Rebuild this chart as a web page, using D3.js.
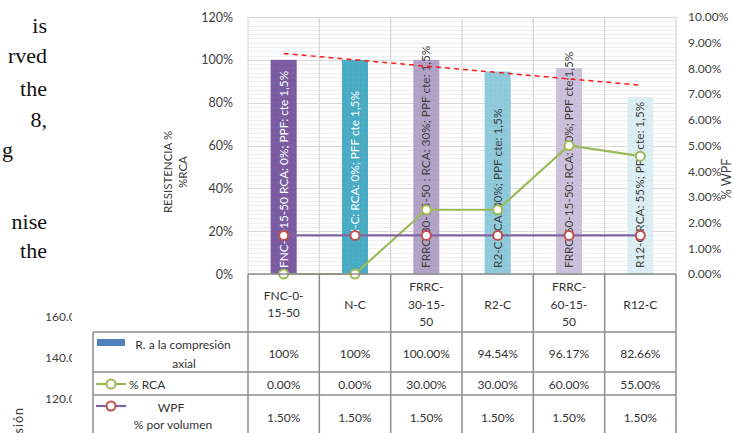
<!DOCTYPE html>
<html>
<head>
<meta charset="utf-8">
<script src="https://cdn.jsdelivr.net/npm/d3@7"></script>
<style>
  html, body { margin: 0; padding: 0; background: #fff; overflow: hidden; }
  svg { display: block; }
  text { font-family: Lato, "Open Sans", sans-serif; }
</style>
</head>
<body>
<svg id="chart" width="733" height="433"></svg>
<script>
// ---------------- DATA ----------------
const categories = ["FNC-0-15-50", "N-C", "FRRC-30-15-50", "R2-C", "FRRC-60-15-50", "R12-C"];
const categoryLines = [["FNC-0-", "15-50"], ["N-C"], ["FRRC-", "30-15-", "50"], ["R2-C"], ["FRRC-", "60-15-", "50"], ["R12-C"]];
const compresion = [1.00, 1.00, 1.00, 0.9454, 0.9617, 0.8266];
const compresionLabels = ["100%", "100%", "100.00%", "94.54%", "96.17%", "82.66%"];
const rca = [0.00, 0.00, 0.30, 0.30, 0.60, 0.55];
const rcaLabels = ["0.00%", "0.00%", "30.00%", "30.00%", "60.00%", "55.00%"];
const wpf = [0.015, 0.015, 0.015, 0.015, 0.015, 0.015];
const wpfLabels = ["1.50%", "1.50%", "1.50%", "1.50%", "1.50%", "1.50%"];
const barLabels = [
  "FNC-0-15-50  RCA: 0%; PPF: cte 1,5%",
  "N-C: RCA: 0%; PFF cte  1,5%",
  "FRRC-30-15-50 : RCA: 30%; PPF cte: 1,5%",
  "R2-C RCA: 30%; PPF cte: 1,5%",
  "FRRC-60-15-50: RCA: 60%; PPF cte:1,5%",
  "R12-C RCA: 55%; PPF cte: 1,5%"
];
const barLabelLead = [0, 30, 0, 0, 0, 0];
const barColors = ["#7b5ba1", "#4aabc5", "#b3a2c7", "#8ecadb", "#ccc1da", "#dbeef4"];
const barLabelColors = ["#ffffff", "#ffffff", "#404040", "#404040", "#404040", "#404040"];
const leftTicks = [0, 0.2, 0.4, 0.6, 0.8, 1.0, 1.2];
const rightTicks = [0, 0.01, 0.02, 0.03, 0.04, 0.05, 0.06, 0.07, 0.08, 0.09, 0.10];
const legendLabels = {
  bar: ["R. a la compresión", "axial"],
  rca: ["% RCA"],
  wpf: ["WPF", "% por volumen"]
};
const leftTitle = ["RESISTENCIA %", "%RCA"];
const rightTitle = "% WPF";
// fragments of surrounding page
const pageText = [
  {t: "is", y: 33}, {t: "rved", y: 63}, {t: "the", y: 96}, {t: "8,", y: 127},
  {t: "g", y: 157, left: true}, {t: "nise", y: 229}, {t: "the", y: 258}
];
const otherTicks = ["160.0", "140.0", "120.0"];

// ---------------- LAYOUT ----------------
const svg = d3.select("#chart");
const L = 248, R = 676, T = 17, B = 274;
const tblLeft = 93;
const rowY = [274, 332, 372, 395, 440];

const x = d3.scaleBand().domain(categories).range([L, R]).padding(0);
const xBar = d3.scaleBand().domain(categories).range([L, R]).paddingInner(0.635).paddingOuter(0.3175);
const yL = d3.scaleLinear().domain([0, 1.2]).range([B, T]);
const yR = d3.scaleLinear().domain([0, 0.10]).range([B, T]);
const cx = c => x(c) + x.bandwidth() / 2;

// subtle dotted texture for bars
const defs = svg.append("defs");
const pat = defs.append("pattern").attr("id", "dots").attr("patternUnits", "userSpaceOnUse")
  .attr("width", 5).attr("height", 5);
pat.append("rect").attr("x", 0).attr("y", 0).attr("width", 1).attr("height", 1).attr("fill", "#000").attr("opacity", 0.05);
pat.append("rect").attr("x", 3).attr("y", 2).attr("width", 1).attr("height", 1).attr("fill", "#fff").attr("opacity", 0.10);

// ---------- page fragments ----------
const serif = svg.append("g").attr("font-size", 22).attr("fill", "#111");
serif.selectAll("text").data(pageText).join("text")
  .style("font-family", "'Liberation Serif', serif")
  .attr("x", d => d.left ? 13 : 47).attr("y", d => d.y)
  .attr("text-anchor", "end").text(d => d.t);

svg.append("clipPath").attr("id", "oc").append("rect").attr("x", 0).attr("y", 0).attr("width", 72).attr("height", 433);
const oth = svg.append("g").attr("clip-path", "url(#oc)");
oth.selectAll("text").data(otherTicks).join("text")
  .attr("x", 45).attr("y", (d, i) => 321 + i * 41)
  .attr("font-size", 12).attr("fill", "#404040").text(d => d);
svg.append("text").attr("transform", "translate(23,407) rotate(-90)")
  .attr("text-anchor", "end").attr("font-size", 12.5).attr("fill", "#404040").attr("letter-spacing", 1).text("sión");

// ---------- gridlines ----------
const minor = d3.range(0, 1.2001, 0.02);
svg.append("g").selectAll("line").data(minor).join("line")
  .attr("x1", L).attr("x2", R).attr("y1", d => Math.round(yL(d)) + 0.5).attr("y2", d => Math.round(yL(d)) + 0.5)
  .attr("stroke", "#efefef").attr("stroke-width", 1);
svg.append("g").selectAll("line").data(leftTicks).join("line")
  .attr("x1", L).attr("x2", R).attr("y1", d => Math.round(yL(d)) + 0.5).attr("y2", d => Math.round(yL(d)) + 0.5)
  .attr("stroke", "#d9d9d9").attr("stroke-width", 1);
const bounds = categories.map(c => x(c)).concat([R]);
svg.append("g").selectAll("line").data(bounds).join("line")
  .attr("x1", d => d).attr("x2", d => d).attr("y1", T).attr("y2", B)
  .attr("stroke", "#d9d9d9").attr("stroke-width", 1.3);

// ---------- axes ----------
const axL = svg.append("g").attr("transform", `translate(${L},0)`)
  .call(d3.axisLeft(yL).tickValues(leftTicks).tickFormat(d3.format(".0%")).tickSize(0).tickPadding(15));
axL.select(".domain").remove();
axL.selectAll("text").attr("font-size", 12.5).attr("fill", "#404040").style("font-family", "Lato, sans-serif");

const axR = svg.append("g").attr("transform", `translate(${R},0)`)
  .call(d3.axisRight(yR).tickValues(rightTicks).tickFormat(d3.format(".2%")).tickSize(0).tickPadding(12));
axR.select(".domain").remove();
axR.selectAll("text").attr("font-size", 12).attr("fill", "#404040").style("font-family", "Lato, sans-serif");

// axis titles
const lt = svg.append("text").attr("transform", "translate(172,172) rotate(-90)")
  .attr("text-anchor", "middle").attr("font-size", 11.5).attr("fill", "#404040");
lt.append("tspan").attr("x", 0).attr("dy", 0).text(leftTitle[0]);
lt.append("tspan").attr("x", 0).attr("dy", 15).text(leftTitle[1]);
svg.append("text").attr("transform", "translate(731,179) rotate(-90)")
  .attr("text-anchor", "middle").attr("font-size", 12.5).attr("fill", "#404040").text(rightTitle);

// ---------- bars ----------
const bars = svg.append("g");
bars.selectAll("rect.b").data(categories).join("rect").attr("class", "b")
  .attr("x", c => xBar(c)).attr("width", xBar.bandwidth())
  .attr("y", (c, i) => yL(compresion[i])).attr("height", (c, i) => B - yL(compresion[i]))
  .attr("fill", (c, i) => barColors[i]);
bars.selectAll("rect.t").data(categories).join("rect").attr("class", "t")
  .attr("x", c => xBar(c)).attr("width", xBar.bandwidth())
  .attr("y", (c, i) => yL(compresion[i])).attr("height", (c, i) => B - yL(compresion[i]))
  .attr("fill", "url(#dots)");

// bar labels
svg.append("g").selectAll("text").data(categories).join("text")
  .attr("transform", (c, i) => `translate(${cx(c) + 4},${B - 6 - barLabelLead[i]}) rotate(-90)`)
  .attr("text-anchor", "start").attr("font-size", 11.8)
  .attr("fill", (c, i) => barLabelColors[i])
  .text((c, i) => barLabels[i]);

// ---------- trendline (linear regression on compression values) ----------
const xs = categories.map((c, i) => i + 1);
const mx = d3.mean(xs), my = d3.mean(compresion);
const slope = d3.sum(xs.map((v, i) => (v - mx) * (compresion[i] - my))) / d3.sum(xs.map(v => (v - mx) ** 2));
const icpt = my - slope * mx;
svg.append("line")
  .attr("x1", cx(categories[0])).attr("y1", yL(icpt + slope * 1))
  .attr("x2", cx(categories[5])).attr("y2", yL(icpt + slope * 6))
  .attr("stroke", "#ff1a1a").attr("stroke-width", 1.5).attr("stroke-dasharray", "5,4");

// ---------- lines ----------
const rcaLine = d3.line().x((d, i) => cx(categories[i])).y(d => yL(d));
svg.append("path").datum(rca).attr("d", rcaLine).attr("fill", "none").attr("stroke", "#9bbb59").attr("stroke-width", 2.2);
const wpfLine = d3.line().x((d, i) => cx(categories[i])).y(d => yR(d));
svg.append("path").datum(wpf).attr("d", wpfLine).attr("fill", "none").attr("stroke", "#8064a2").attr("stroke-width", 2.2);

svg.append("g").selectAll("circle").data(rca).join("circle")
  .attr("cx", (d, i) => cx(categories[i])).attr("cy", d => yL(d)).attr("r", 4.5)
  .attr("fill", "#fff").attr("stroke", "#9bbb59").attr("stroke-width", 2);
svg.append("g").selectAll("circle").data(wpf).join("circle")
  .attr("cx", (d, i) => cx(categories[i])).attr("cy", d => yR(d)).attr("r", 4.5)
  .attr("fill", "#fff").attr("stroke", "#c0504d").attr("stroke-width", 2);

// ---------- data table ----------
const tg = svg.append("g");
const lineColor = "#8c8c8c", lw = 1.5;
tg.append("line").attr("x1", L).attr("x2", R).attr("y1", rowY[0]).attr("y2", rowY[0]).attr("stroke", lineColor).attr("stroke-width", lw);
[rowY[1], rowY[2], rowY[3]].forEach(yy => {
  tg.append("line").attr("x1", tblLeft).attr("x2", R).attr("y1", yy).attr("y2", yy).attr("stroke", lineColor).attr("stroke-width", lw);
});
tg.append("line").attr("x1", tblLeft).attr("x2", tblLeft).attr("y1", rowY[1]).attr("y2", rowY[4]).attr("stroke", lineColor).attr("stroke-width", lw);
tg.selectAll("line.v").data(bounds).join("line").attr("class", "v")
  .attr("x1", d => d).attr("x2", d => d).attr("y1", rowY[0]).attr("y2", rowY[4])
  .attr("stroke", lineColor).attr("stroke-width", lw);

const tt = (sel) => sel.attr("text-anchor", "middle").attr("font-size", 12).attr("fill", "#333").attr("dominant-baseline", "central");
categories.forEach((c, i) => {
  const lines = categoryLines[i];
  const lh = 17.7;
  const mid = (rowY[0] + rowY[1]) / 2 + 1;
  lines.forEach((ln, k) => {
    tg.append("text").call(tt).attr("x", cx(c)).attr("y", mid + (k - (lines.length - 1) / 2) * lh).text(ln);
  });
});
const rowsVals = [compresionLabels, rcaLabels, wpfLabels];
rowsVals.forEach((vals, r) => {
  const yc = r < 2 ? (rowY[r + 1] + rowY[r + 2]) / 2 + 1 : 417;
  tg.selectAll(null).data(categories).join("text").call(tt)
    .attr("x", c => cx(c)).attr("y", yc).text((c, i) => vals[i]);
});

// legend keys in table
tg.append("rect").attr("x", 97).attr("y", 339).attr("width", 28).attr("height", 7).attr("fill", "#4f81bd");
tg.append("text").call(tt).attr("x", 183).attr("y", 344).text(legendLabels.bar[0]);
tg.append("text").call(tt).attr("x", 184).attr("y", 363).text(legendLabels.bar[1]);

tg.append("line").attr("x1", 96).attr("x2", 126).attr("y1", 384).attr("y2", 384).attr("stroke", "#9bbb59").attr("stroke-width", 2.2);
tg.append("circle").attr("cx", 111).attr("cy", 384).attr("r", 4.5).attr("fill", "#fff").attr("stroke", "#9bbb59").attr("stroke-width", 2);
tg.append("text").call(tt).attr("text-anchor", "start").attr("x", 129).attr("y", 384.5).text(legendLabels.rca[0]);

tg.append("line").attr("x1", 96).attr("x2", 126).attr("y1", 406).attr("y2", 406).attr("stroke", "#8064a2").attr("stroke-width", 2.2);
tg.append("circle").attr("cx", 111).attr("cy", 406).attr("r", 4.5).attr("fill", "#fff").attr("stroke", "#c0504d").attr("stroke-width", 2);
tg.append("text").call(tt).attr("x", 171).attr("y", 407).text(legendLabels.wpf[0]);
tg.append("text").call(tt).attr("x", 173).attr("y", 424).text(legendLabels.wpf[1]);
</script>
</body>
</html>
